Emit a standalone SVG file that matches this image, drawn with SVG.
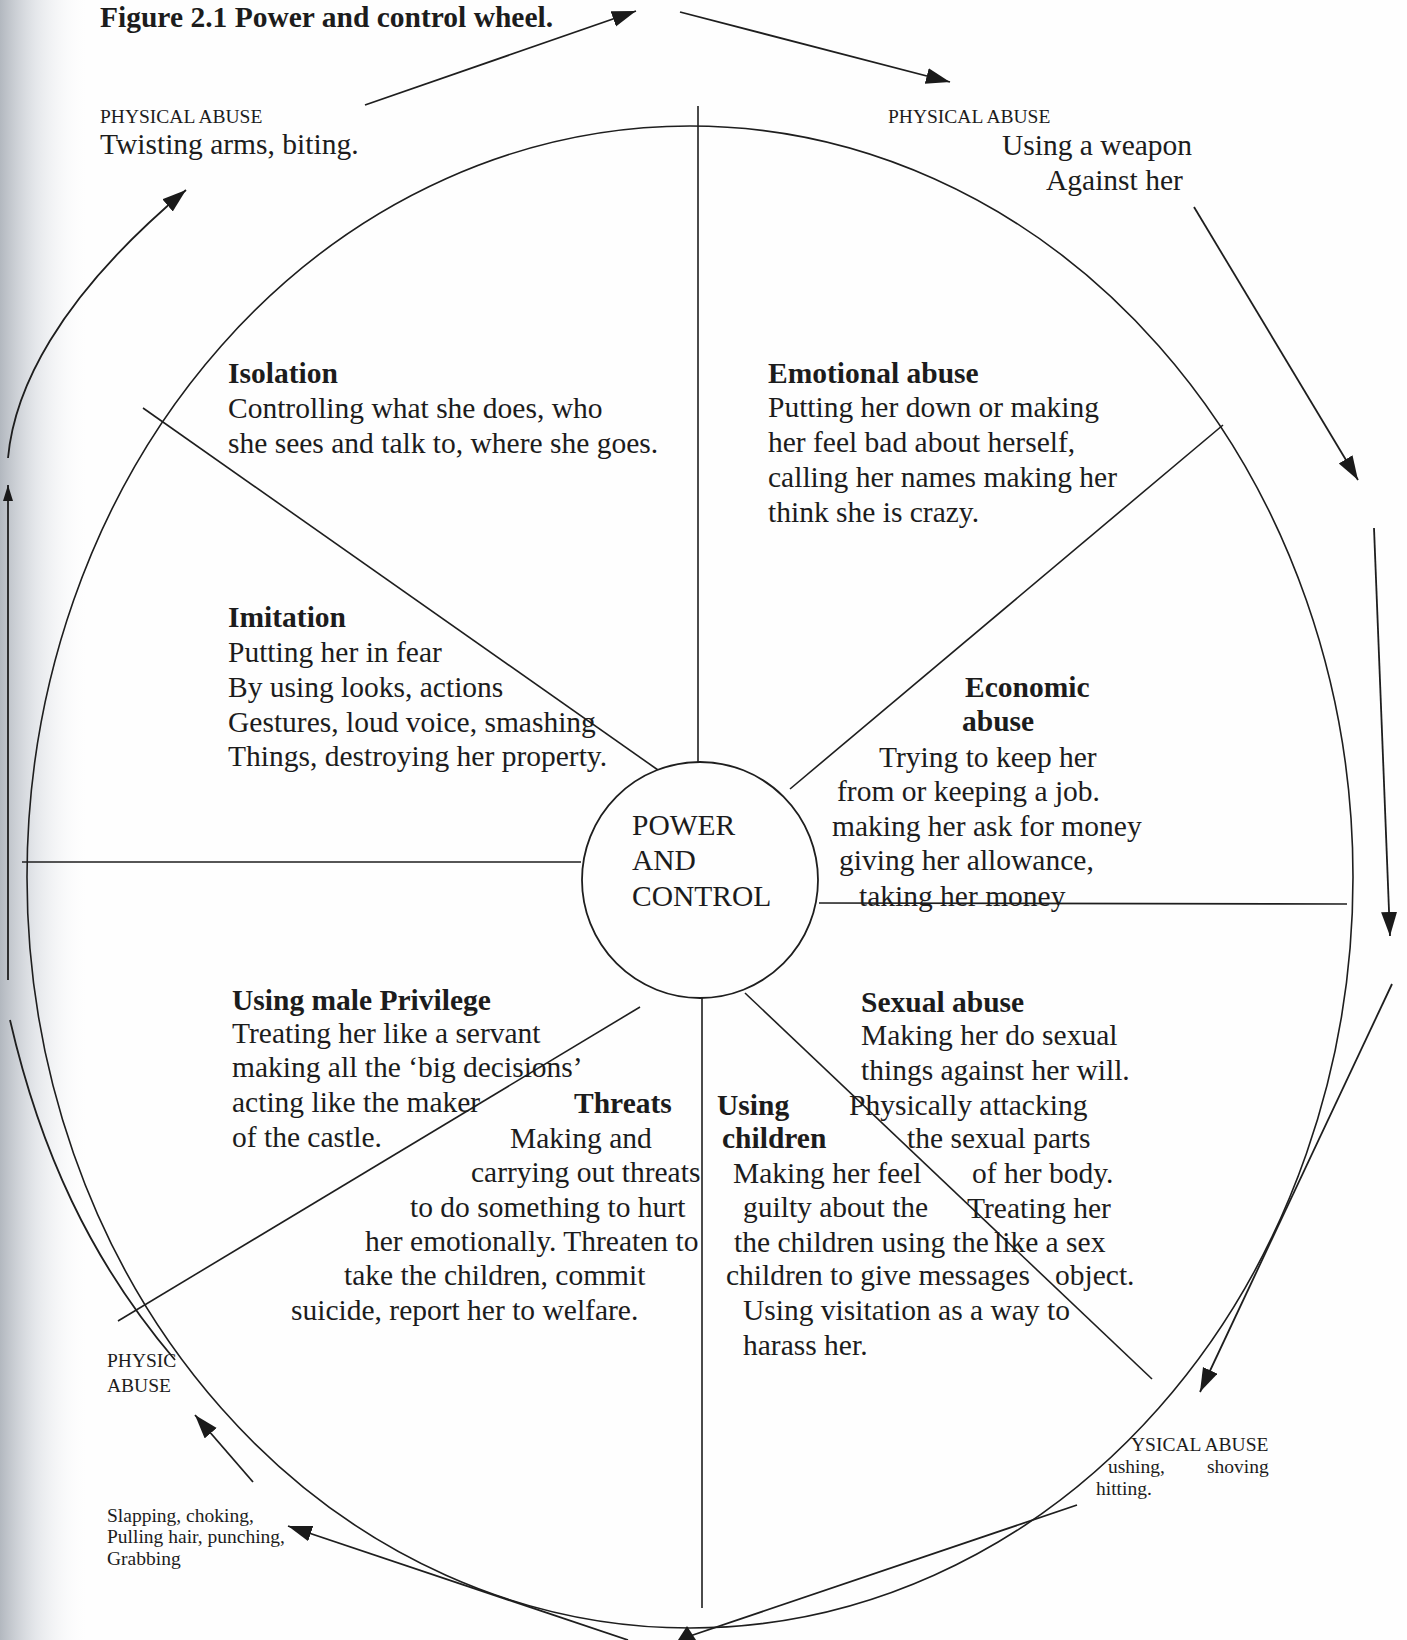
<svg xmlns="http://www.w3.org/2000/svg" width="1407" height="1640" viewBox="0 0 1407 1640">
<style>
.t{font-family:"Liberation Serif","Times New Roman",serif;font-size:29.5px;fill:#1c1c1c}
.b{font-weight:bold}
.s{font-size:19.5px}
.ln{fill:none;stroke:#1e1e1e;stroke-width:1.6}
.ar{fill:none;stroke:#1e1e1e;stroke-width:1.8}
</style>
<defs>
<linearGradient id="shade" x1="0" y1="0" x2="1" y2="0">
<stop offset="0" stop-color="#aab0b8" stop-opacity="0.9"/>
<stop offset="0.4" stop-color="#d4d8de" stop-opacity="0.6"/>
<stop offset="1" stop-color="#ffffff" stop-opacity="0"/>
</linearGradient>
<marker id="ah" markerUnits="userSpaceOnUse" markerWidth="26" markerHeight="18" refX="24" refY="8" orient="auto">
<path d="M0,0 L24,8 L0,16 z" fill="#1a1a1a"/>
</marker>
<marker id="ahs" markerUnits="userSpaceOnUse" markerWidth="18" markerHeight="12" refX="16" refY="5" orient="auto">
<path d="M0,0 L16,5 L0,10 z" fill="#1a1a1a"/>
</marker>
</defs>
<rect x="0" y="0" width="1407" height="1640" fill="#fefefe"/>
<rect x="0" y="0" width="90" height="1640" fill="url(#shade)"/>

<g id="outer-labels">
<text class="t b" x="100" y="27">Figure 2.1 Power and control wheel.</text>
<text class="t s" x="100" y="123">PHYSICAL ABUSE</text>
<text class="t" x="100" y="154">Twisting arms, biting.</text>
<text class="t s" x="888" y="123">PHYSICAL ABUSE</text>
<text class="t" x="1002" y="155">Using a weapon</text>
<text class="t" x="1046" y="190">Against her</text>
<text class="t s" x="107" y="1367">PHYSIC</text>
<text class="t s" x="107" y="1392">ABUSE</text>
<text class="t s" x="107" y="1522">Slapping, choking,</text>
<text class="t s" x="107" y="1543">Pulling hair, punching,</text>
<text class="t s" x="107" y="1565">Grabbing</text>
<text class="t s" x="1131" y="1451">YSICAL ABUSE</text>
<text class="t s" x="1108" y="1473">ushing,</text>
<text class="t s" x="1207" y="1473">shoving</text>
<text class="t s" x="1096" y="1495">hitting.</text>
</g>

<g id="wheel">
<ellipse class="ln" cx="690" cy="877" rx="663" ry="751" stroke-width="1.8"/>
</g>

<g id="connectors">
<line class="ln" x1="698" y1="106" x2="698" y2="764"/>
<line class="ln" x1="702" y1="996" x2="702" y2="1608"/>
<line class="ln" x1="22" y1="862" x2="581" y2="862"/>
<line class="ln" x1="819" y1="903" x2="1347" y2="904"/>
<line class="ln" x1="143" y1="408" x2="658" y2="770"/>
<line class="ln" x1="1223" y1="425" x2="790" y2="789"/>
<line class="ln" x1="640" y1="1007" x2="118" y2="1321"/>
<line class="ln" x1="745" y1="993" x2="1152" y2="1379"/>

<path class="ar" d="M365,105 L636,11" marker-end="url(#ah)"/>
<path class="ar" d="M680,12 L950,82" marker-end="url(#ah)"/>
<path class="ar" d="M1194,207 L1358,480" marker-end="url(#ah)"/>
<path class="ar" d="M1374,528 L1390,936" marker-end="url(#ah)"/>
<path class="ar" d="M1392,984 L1200,1392" marker-end="url(#ah)"/>
<path class="ar" d="M1077,1505 L690,1636"/>
<polygon points="687,1626 678,1640 696,1640" fill="#1a1a1a"/>
<path class="ar" d="M628,1640 L288,1526" marker-end="url(#ah)"/>
<path class="ar" d="M253,1482 L195,1415" marker-end="url(#ah)"/>
<path class="ar" d="M10,1020 C40,1150 90,1260 175,1360" stroke-width="1.5"/>
<path class="ar" d="M8,980 L8,485" stroke-width="1.4" marker-end="url(#ahs)"/>
<path class="ar" d="M8,458 C14,392 55,300 186,190" stroke-width="1.5" marker-end="url(#ah)"/>
</g>

<g id="center">
<circle cx="700" cy="880" r="118" fill="#fefefe" stroke="#1e1e1e" stroke-width="1.8"/>
<text class="t" x="632" y="835">POWER</text>
<text class="t" x="632" y="870">AND</text>
<text class="t" x="632" y="906">CONTROL</text>
</g>

<g id="isolation">
<text class="t b" x="228" y="383">Isolation</text>
<text class="t" x="228" y="418">Controlling what she does, who</text>
<text class="t" x="228" y="453">she sees and talk to, where she goes.</text>
</g>

<g id="imitation">
<text class="t b" x="228" y="627">Imitation</text>
<text class="t" x="228" y="662">Putting her in fear</text>
<text class="t" x="228" y="697">By using looks, actions</text>
<text class="t" x="228" y="732">Gestures, loud voice, smashing</text>
<text class="t" x="228" y="766">Things, destroying her property.</text>
</g>

<g id="emotional">
<text class="t b" x="768" y="383">Emotional abuse</text>
<text class="t" x="768" y="417">Putting her down or making</text>
<text class="t" x="768" y="452">her feel bad about herself,</text>
<text class="t" x="768" y="487">calling her names making her</text>
<text class="t" x="768" y="522">think she is crazy.</text>
</g>

<g id="economic">
<text class="t b" x="965" y="697">Economic</text>
<text class="t b" x="962" y="731">abuse</text>
<text class="t" x="879" y="767">Trying to keep her</text>
<text class="t" x="837" y="801">from or keeping a job.</text>
<text class="t" x="832" y="836">making her ask for money</text>
<text class="t" x="839" y="870">giving her allowance,</text>
<text class="t" x="859" y="906">taking her money</text>
</g>

<g id="privilege">
<text class="t b" x="232" y="1010">Using male Privilege</text>
<text class="t" x="232" y="1043">Treating her like a servant</text>
<text class="t" x="232" y="1077">making all the ‘big decisions’</text>
<text class="t" x="232" y="1112">acting like the maker</text>
<text class="t" x="232" y="1147">of the castle.</text>
</g>

<g id="threats">
<text class="t b" x="574" y="1113">Threats</text>
<text class="t" x="510" y="1148">Making and</text>
<text class="t" x="471" y="1182">carrying out threats</text>
<text class="t" x="410" y="1217">to do something to hurt</text>
<text class="t" x="365" y="1251">her emotionally. Threaten to</text>
<text class="t" x="344" y="1285">take the children, commit</text>
<text class="t" x="291" y="1320">suicide, report her to welfare.</text>
</g>

<g id="children">
<text class="t b" x="717" y="1115">Using</text>
<text class="t b" x="722" y="1148">children</text>
<text class="t" x="733" y="1183">Making her feel</text>
<text class="t" x="743" y="1217">guilty about the</text>
<text class="t" x="734" y="1252">the children using the</text>
<text class="t" x="726" y="1285">children to give messages</text>
<text class="t" x="743" y="1320">Using visitation as a way to</text>
<text class="t" x="743" y="1355">harass her.</text>
</g>

<g id="sexual">
<text class="t b" x="861" y="1012">Sexual abuse</text>
<text class="t" x="861" y="1045">Making her do sexual</text>
<text class="t" x="861" y="1080">things against her will.</text>
<text class="t" x="849" y="1115">Physically attacking</text>
<text class="t" x="907" y="1148">the sexual parts</text>
<text class="t" x="972" y="1183">of her body.</text>
<text class="t" x="967" y="1218">Treating her</text>
<text class="t" x="994" y="1252">like a sex</text>
<text class="t" x="1055" y="1285">object.</text>
</g>
</svg>
